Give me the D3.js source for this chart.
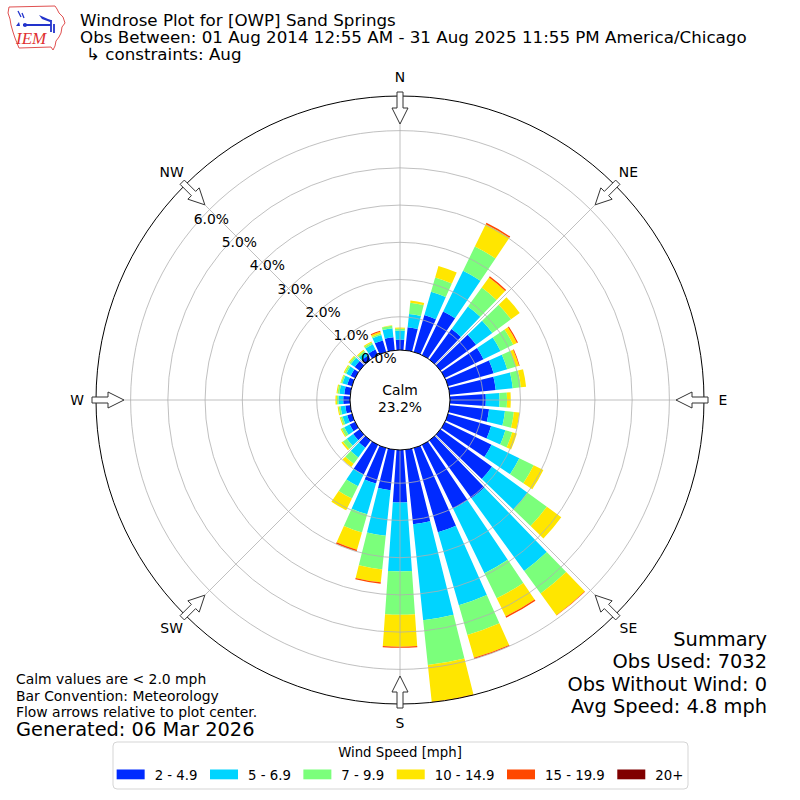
<!DOCTYPE html>
<html lang="en">
<head>
<meta charset="UTF-8">
<title>Windrose Plot for [OWP] Sand Springs</title>
<script src="https://d3js.org/d3.v7.min.js"></script>
<style>
  body { margin: 0; background: #fff; }
  svg { display: block; font-family: "DejaVu Sans", sans-serif; }
  .grid { fill: none; stroke: #b0b0b0; stroke-width: 0.8; }
  .arrow { fill: #fff; stroke: #333; stroke-width: 1; }
</style>
</head>
<body>
<svg id="chart" width="800" height="800"></svg>
<script>
// wind directions (deg, meteorological) and speed bins
const directions = d3.range(0, 360, 10);
const speedBins = ["2 - 4.9", "5 - 6.9", "7 - 9.9", "10 - 14.9", "15 - 19.9", "20+"];
const binColors = ["#002aff", "#00d4ff", "#7bff7b", "#ffe600", "#ff4800", "#800000"];

// percent of observations, one value per direction (0, 10, ... 350)
const speed2to5 = [0.39, 0.73, 1.14, 1.41, 1.12, 1.29, 1.26, 1.38, 1.35, 1.07, 1.17, 1.31,
                   1.50, 1.82, 2.03, 2.01, 2.46, 2.12, 1.52, 1.20, 1.10, 0.99, 0.35, 0.32,
                   0.27, 0.24, 0.24, 0.29, 0.27, 0.24, 0.24, 0.27, 0.24, 0.27, 0.43, 0.46];
const speed5to7 = [0.24, 0.36, 0.65, 1.22, 0.75, 0.54, 0.51, 0.38, 0.46, 0.37, 0.43, 0.40,
                   0.83, 1.18, 2.41, 1.93, 2.04, 2.59, 1.85, 1.23, 0.86, 0.35, 0.32, 0.21,
                   0.16, 0.13, 0.13, 0.13, 0.13, 0.13, 0.13, 0.13, 0.11, 0.16, 0.15, 0.24];
const speed7to10 = [0.05, 0.30, 0.40, 0.72, 0.63, 0.62, 0.38, 0.24, 0.22, 0.20, 0.24, 0.19,
                    0.43, 0.64, 0.75, 0.75, 0.83, 1.21, 1.16, 0.91, 0.51, 0.37, 0.21, 0.13,
                    0.08, 0.05, 0.05, 0.04, 0.05, 0.04, 0.05, 0.05, 0.05, 0.05, 0.04, 0.07];
const speed10to15 = [0.03, 0.06, 0.32, 0.67, 0.33, 0.29, 0.11, 0.09, 0.14, 0.10, 0.15, 0.13,
                     0.29, 0.48, 0.72, 0.54, 0.64, 1.00, 0.86, 0.35, 0.48, 0.35, 0.11, 0.05,
                     0.03, 0.03, 0.03, 0.04, 0.03, 0.02, 0.03, 0.03, 0.03, 0.03, 0.05, 0.01];
const speed15to20 = [0, 0, 0, 0.04, 0.04, 0, 0.03, 0.02, 0, 0, 0, 0,
                     0, 0, 0.01, 0.04, 0.03, 0.01, 0.03, 0.04, 0.04, 0, 0, 0,
                     0, 0, 0, 0, 0, 0, 0, 0, 0, 0, 0.03, 0];
const speed20up = new Array(36).fill(0);
const seriesValues = [speed2to5, speed5to7, speed7to10, speed10to15, speed15to20, speed20up];

const ringTicks = [1, 2, 3, 4, 5, 6];
const ringLabels = [0, 1, 2, 3, 4, 5, 6];
const compass = [["N", 0], ["NE", 45], ["E", 90], ["SE", 135], ["S", 180], ["SW", 225], ["W", 270], ["NW", 315]];

const calmPct = "23.2%";
const titleLines = ["Windrose Plot for [OWP] Sand Springs",
                    "Obs Between: 01 Aug 2014 12:55 AM - 31 Aug 2025 11:55 PM America/Chicago"];
const constraintLine = "\u21b3 constraints: Aug";
const noteLines = ["Calm values are < 2.0 mph", "Bar Convention: Meteorology", "Flow arrows relative to plot center."];
const generated = "Generated: 06 Mar 2026";
const summaryLines = ["Summary", "Obs Used: 7032", "Obs Without Wind: 0", "Avg Speed: 4.8 mph"];

const svg = d3.select("#chart");
const cx = 400, cy = 400;
const innerR = 46, outerR = 304, calmR = 50;
const rad = Math.PI / 180;

// stack the bins for every direction
const stacked = directions.map((dir, i) => {
    let cum = 0;
    return seriesValues.map((vals, b) => {
        const seg = { dir, bin: b, y0: cum, y1: cum + vals[i] };
        cum += vals[i];
        return seg;
    });
});
const rMax = d3.max(stacked, s => s[s.length - 1].y1);
const r = d3.scaleLinear().domain([0, rMax]).range([innerR, outerR]);

const plot = svg.append("g").attr("transform", `translate(${cx},${cy})`);

// bars
const halfWidth = 4 * rad;
const arc = d3.arc();
plot.append("g").selectAll("g")
    .data(stacked)
    .join("g")
    .selectAll("path")
    .data(d => d.filter(s => s.y1 > s.y0))
    .join("path")
    .attr("d", s => arc({
        innerRadius: r(s.y0), outerRadius: r(s.y1),
        startAngle: s.dir * rad - halfWidth, endAngle: s.dir * rad + halfWidth
    }))
    .attr("fill", s => binColors[s.bin]);

// grid on top of bars
plot.append("g").selectAll("circle")
    .data(ringTicks)
    .join("circle")
    .attr("class", "grid")
    .attr("r", d => r(d));
plot.append("g").selectAll("line")
    .data(d3.range(0, 360, 45))
    .join("line")
    .attr("class", "grid")
    .attr("x1", d => r(0) * Math.sin(d * rad))
    .attr("y1", d => -r(0) * Math.cos(d * rad))
    .attr("x2", d => outerR * Math.sin(d * rad))
    .attr("y2", d => -outerR * Math.cos(d * rad));
plot.append("circle").attr("r", outerR).attr("fill", "none").attr("stroke", "#000").attr("stroke-width", 1);

// calm circle
plot.append("circle").attr("r", calmR).attr("fill", "#fff").attr("stroke", "#000").attr("stroke-width", 1);
plot.append("text").attr("y", -5).attr("text-anchor", "middle").attr("font-size", 13.9).text("Calm");
plot.append("text").attr("y", 12).attr("text-anchor", "middle").attr("font-size", 13.9).text(calmPct);

// radial tick labels
const labAng = 309.7 * rad;
plot.append("g").selectAll("text")
    .data(ringLabels)
    .join("text")
    .attr("x", d => Math.sin(labAng) * r(d) * 0.975 + 13.5)
    .attr("y", d => -Math.cos(labAng) * r(d) * 0.975 - 13.3)
    .attr("text-anchor", "middle")
    .attr("dominant-baseline", "central")
    .attr("font-size", 13.9)
    .text(d => d.toFixed(1) + "%");

// compass labels and flow arrows
plot.append("g").selectAll("text")
    .data(compass)
    .join("text")
    .attr("x", d => 323 * Math.sin(d[1] * rad))
    .attr("y", d => -323 * Math.cos(d[1] * rad))
    .attr("text-anchor", "middle")
    .attr("dominant-baseline", "central")
    .attr("font-size", 13.9)
    .text(d => d[0]);

const arrowShape = [[308, -3], [292, -3], [292, -8], [276, 0], [292, 8], [292, 3], [308, 3]];
plot.append("g").selectAll("path")
    .data(compass)
    .join("path")
    .attr("class", "arrow")
    .attr("d", d => {
        const a = d[1] * rad;
        return "M" + arrowShape.map(([u, v]) =>
            [u * Math.sin(a) + v * Math.cos(a), -u * Math.cos(a) + v * Math.sin(a)]
                .map(n => n.toFixed(2)).join(",")).join("L") + "Z";
    });

// title
svg.selectAll(".title")
    .data(titleLines)
    .join("text")
    .attr("class", "title")
    .attr("x", 80)
    .attr("y", (d, i) => 26 + i * 17)
    .attr("font-size", 16.7)
    .text(d => d);
svg.append("text").attr("x", 86).attr("y", 60).attr("font-size", 16.7).text(constraintLine);

// logo
const logo = svg.append("g").attr("transform", "translate(7,5)");
logo.append("path")
    .attr("d", "M2,2 L48,1 L50,4 L52,8 L56,12 L58,18 L55,22 L54,28 L52,32 L49,36 L48,41 L46,45 L44,42 L12,43 L10,38 L8,33 L6,27 L4,20 L3,14 L1,8 Z")
    .attr("fill", "none").attr("stroke", "#e05050").attr("stroke-width", 1);
logo.append("path").attr("d", "M11,6 L14,12 M15,8 L17,13").attr("stroke", "#2233cc").attr("stroke-width", 1.3).attr("fill", "none");
logo.append("path").attr("d", "M16,20 L44,20 M44,15 L44,27 M47,19 L47,28").attr("stroke", "#2233cc").attr("stroke-width", 1.8).attr("fill", "none");
logo.append("path").attr("d", "M32,10 L41,14 L44,15 L43,17 L35,14 Z").attr("fill", "#2233cc");
logo.append("circle").attr("cx", 18).attr("cy", 20).attr("r", 2).attr("fill", "#2233cc");
logo.append("path").attr("d", "M9,21 L12,17 L13,21 Z").attr("fill", "#2233cc");
logo.append("text").attr("x", 9).attr("y", 39).attr("font-family", "Liberation Serif, serif")
    .attr("font-style", "italic").attr("font-size", 17).attr("fill", "#e03030").text("IEM");

// notes bottom left
svg.selectAll(".note")
    .data(noteLines)
    .join("text")
    .attr("class", "note")
    .attr("x", 16)
    .attr("y", (d, i) => 684 + i * 16.5)
    .attr("font-size", 13.9)
    .text(d => d);
svg.append("text").attr("x", 16).attr("y", 736).attr("font-size", 19.4).text(generated);

// summary bottom right
svg.selectAll(".summary")
    .data(summaryLines)
    .join("text")
    .attr("class", "summary")
    .attr("x", 767)
    .attr("y", (d, i) => 646 + i * 22.3)
    .attr("text-anchor", "end")
    .attr("font-size", 19.4)
    .text(d => d);

// legend
const legend = svg.append("g");
legend.append("rect").attr("x", 113).attr("y", 742).attr("width", 575).attr("height", 47)
    .attr("rx", 4).attr("fill", "#fff").attr("stroke", "#d5d5d5");
legend.append("text").attr("x", 400).attr("y", 757).attr("text-anchor", "middle")
    .attr("font-size", 13.3).text("Wind Speed [mph]");
const entries = legend.append("g");
let lx = 0;
speedBins.forEach((lab, i) => {
    entries.append("rect").attr("x", lx).attr("y", 769.5).attr("width", 28).attr("height", 9.8).attr("fill", binColors[i]);
    const t = entries.append("text").attr("x", lx + 38).attr("y", 779.5).attr("font-size", 13.3).text(lab);
    lx += 38 + t.node().getComputedTextLength() + (i < speedBins.length - 1 ? 12.5 : 0);
});
entries.attr("transform", `translate(${400 - lx / 2},0)`);
</script>
</body>
</html>
